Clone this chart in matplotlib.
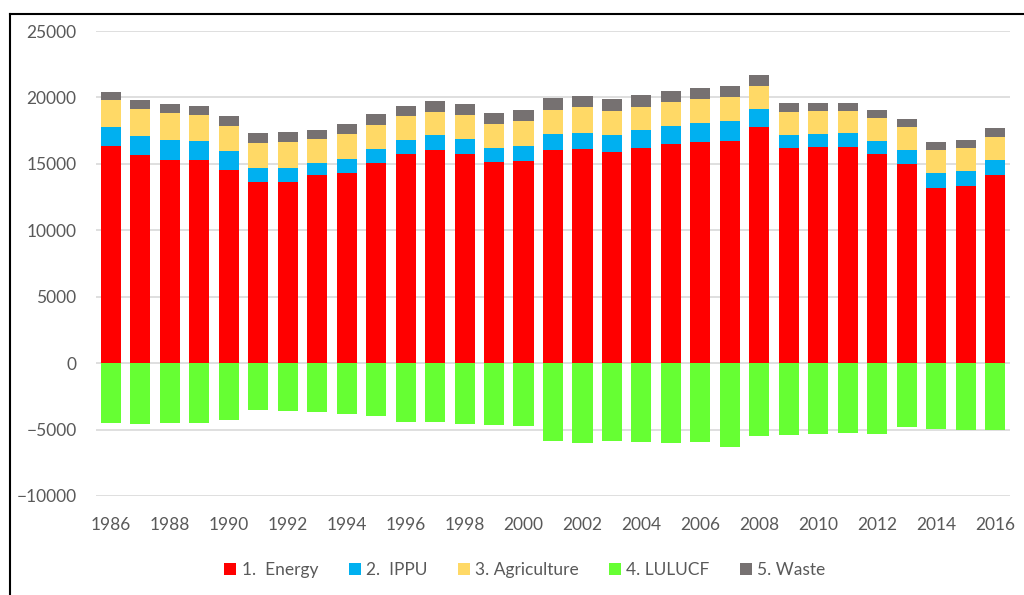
import matplotlib
matplotlib.use("Agg")
import matplotlib.pyplot as plt
from matplotlib.lines import Line2D
import numpy as np

plt.rcParams['font.family'] = ['Lato', 'DejaVu Sans']

years = list(range(1986, 2017))
energy = [16320, 15690, 15320, 15270, 14540, 13660, 13660, 14140, 14340, 15040,
          15740, 16070, 15740, 15120, 15190, 16040, 16150, 15870, 16220, 16490,
          16620, 16750, 17770, 16190, 16240, 16240, 15720, 14970, 13180, 13310, 14140]
ippu = [1430, 1380, 1450, 1450, 1430, 1050, 1050, 900, 1020, 1080,
        1030, 1100, 1130, 1050, 1130, 1200, 1200, 1280, 1350, 1380,
        1450, 1450, 1330, 980, 1000, 1050, 1000, 1100, 1130, 1130, 1150]
agriculture = [2030, 2050, 2050, 1950, 1910, 1880, 1960, 1800, 1860, 1830,
               1800, 1730, 1800, 1830, 1880, 1840, 1930, 1830, 1730, 1810,
               1810, 1860, 1780, 1760, 1710, 1660, 1710, 1680, 1710, 1780, 1760]
lulucf = [-4535, -4610, -4535, -4512, -4264, -3557, -3610, -3662, -3835, -3963,
          -4414, -4414, -4564, -4640, -4760, -5866, -6016, -5841, -5966, -5991,
          -5941, -6317, -5465, -5390, -5339, -5289, -5314, -4813, -4988, -5038, -5038]
waste = [600, 710, 650, 680, 720, 720, 720, 730, 770, 780,
         780, 830, 800, 800, 830, 870, 860, 880, 900, 830,
         830, 800, 780, 650, 630, 630, 620, 600, 600, 600, 620]

labels = ["1.  Energy", "2.  IPPU", "3. Agriculture", "4. LULUCF", "5. Waste"]
colors = ["#FF0000", "#00B0F0", "#FFD966", "#66FF33", "#767171"]

fig = plt.figure(figsize=(10.24, 5.95), dpi=100)
ax = fig.add_axes([96/1024, 99/595, 914/1024, 465/595])

x = np.arange(len(years))
w = 0.68
e = np.array(energy); i = np.array(ippu); a = np.array(agriculture); wa = np.array(waste)
ax.bar(x, e, w, color=colors[0], label=labels[0], zorder=3)
ax.bar(x, i, w, bottom=e, color=colors[1], label=labels[1], zorder=3)
ax.bar(x, a, w, bottom=e + i, color=colors[2], label=labels[2], zorder=3)
ax.bar(x, lulucf, w, color=colors[3], label=labels[3], zorder=3)
ax.bar(x, wa, w, bottom=e + i + a, color=colors[4], label=labels[4], zorder=3)

ax.set_xlim(-0.5, len(years) - 0.5)
ax.set_ylim(-10000, 25000)
ax.set_yticks(range(-10000, 25001, 5000))
ax.yaxis.grid(True, color="#d9d9d9", linewidth=1.2, zorder=0)
ax.set_axisbelow(True)
for s in ax.spines.values():
    s.set_visible(False)
ax.set_xticks(x[::2])
ax.set_xticklabels([str(y) for y in years[::2]])
ax.tick_params(axis='both', length=0, labelsize=12.5, labelcolor="#595959")
ax.tick_params(axis='x', pad=15)
ax.tick_params(axis='y', pad=14)

leg = fig.legend(loc='center', bbox_to_anchor=(525/1024, 1 - 570/595), ncol=5,
                 frameon=False, fontsize=12.5, handlelength=0.7, handleheight=0.7,
                 handletextpad=0.3, columnspacing=1.75)
for t in leg.get_texts():
    t.set_color("#595959")

ytop = 1 - 13.5/595
xl = 9.5/1024
fig.add_artist(Line2D([xl, 1], [ytop, ytop], transform=fig.transFigure, color="black", lw=1.5))
fig.add_artist(Line2D([xl, xl], [0, ytop], transform=fig.transFigure, color="black", lw=1.5))

fig.savefig("out.png", dpi=100)
